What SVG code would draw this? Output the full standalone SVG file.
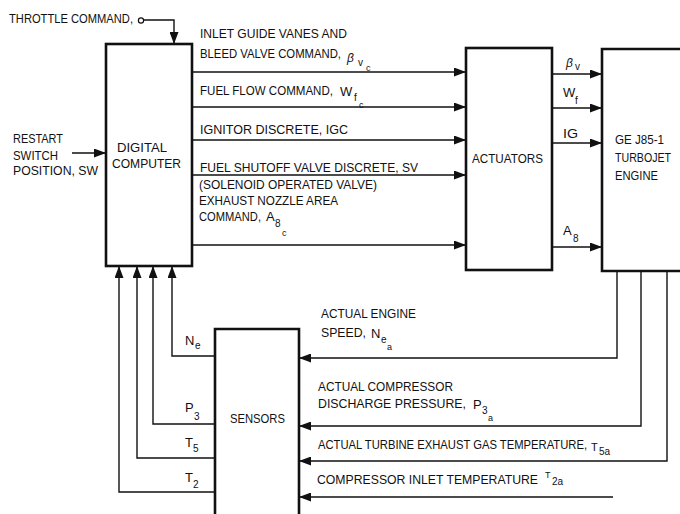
<svg xmlns="http://www.w3.org/2000/svg" width="680" height="514" viewBox="0 0 680 514">
<style>
text{font-family:"Liberation Sans",Arial,sans-serif;font-size:13px;fill:#111}
.s{font-size:10px}
.ss{font-size:9px}
.b{font-style:italic;font-size:12px}
.box{fill:#fff;stroke:#111;stroke-width:2.6}
.ln{fill:none;stroke:#111;stroke-width:1.4}
</style>
<defs>
<marker id="ah" markerUnits="userSpaceOnUse" markerWidth="12" markerHeight="9" refX="12" refY="4.5" orient="auto">
<path d="M0,0 L12,4.5 L0,9 z" fill="#111"/>
</marker>
</defs>
<rect width="680" height="514" fill="#fff"/>

<g id="connectors">
<path class="ln" d="M144,20 H174 V44" marker-end="url(#ah)"/>
<circle cx="141" cy="20.5" r="2.6" fill="#fff" stroke="#111" stroke-width="1.2"/>
<path class="ln" d="M72,153 H106" marker-end="url(#ah)"/>
<path class="ln" d="M192,72 H466" marker-end="url(#ah)"/>
<path class="ln" d="M192,107 H466" marker-end="url(#ah)"/>
<path class="ln" d="M192,140 H466" marker-end="url(#ah)"/>
<path class="ln" d="M192,175 H466" marker-end="url(#ah)"/>
<path class="ln" d="M192,245 H466" marker-end="url(#ah)"/>
<path class="ln" d="M552,74 H602" marker-end="url(#ah)"/>
<path class="ln" d="M552,108 H602" marker-end="url(#ah)"/>
<path class="ln" d="M552,143 H602" marker-end="url(#ah)"/>
<path class="ln" d="M552,247 H602" marker-end="url(#ah)"/>
<path class="ln" d="M617,271 V358 H299" marker-end="url(#ah)"/>
<path class="ln" d="M641,271 V426 H299" marker-end="url(#ah)"/>
<path class="ln" d="M667,271 V461 H299" marker-end="url(#ah)"/>
<path class="ln" d="M613,497 H299" marker-end="url(#ah)"/>
<path class="ln" d="M215,356 H172 V266" marker-end="url(#ah)"/>
<path class="ln" d="M215,424 H153 V266" marker-end="url(#ah)"/>
<path class="ln" d="M215,458 H137 V266" marker-end="url(#ah)"/>
<path class="ln" d="M215,492 H119 V266" marker-end="url(#ah)"/>
</g>

<g id="computer">
<rect class="box" x="106" y="44" width="86" height="222"/>
<text x="117" y="152" textLength="50" lengthAdjust="spacingAndGlyphs">DIGITAL</text>
<text x="112" y="168" textLength="69" lengthAdjust="spacingAndGlyphs">COMPUTER</text>
</g>

<g id="actuators">
<rect class="box" x="466" y="48" width="86" height="222"/>
<text x="472" y="163" textLength="71" lengthAdjust="spacingAndGlyphs">ACTUATORS</text>
</g>

<g id="engine">
<path class="box" d="M681,49 H602 V271 H681"/>
<text x="615" y="144" textLength="49" lengthAdjust="spacingAndGlyphs">GE J85-1</text>
<text x="615" y="162" textLength="56" lengthAdjust="spacingAndGlyphs">TURBOJET</text>
<text x="615" y="180" textLength="43" lengthAdjust="spacingAndGlyphs">ENGINE</text>
</g>

<g id="sensors">
<path class="box" d="M215,515 V329 H299 V515"/>
<text x="230" y="423" textLength="55" lengthAdjust="spacingAndGlyphs">SENSORS</text>
</g>

<g id="labels">
<text x="9" y="23" textLength="124" lengthAdjust="spacingAndGlyphs">THROTTLE COMMAND,</text>
<text x="13" y="143" textLength="50" lengthAdjust="spacingAndGlyphs">RESTART</text>
<text x="13" y="160" textLength="45" lengthAdjust="spacingAndGlyphs">SWITCH</text>
<text x="13" y="175" textLength="85" lengthAdjust="spacingAndGlyphs">POSITION, SW</text>

<text x="200" y="38" textLength="147" lengthAdjust="spacingAndGlyphs">INLET GUIDE VANES AND</text>
<text x="200" y="58"><tspan textLength="141" lengthAdjust="spacingAndGlyphs">BLEED VALVE COMMAND,</tspan><tspan class="b" x="347" y="62">β</tspan><tspan class="s" x="358" y="66">v</tspan><tspan class="ss" x="366" y="71">c</tspan></text>

<text x="200" y="95"><tspan textLength="133" lengthAdjust="spacingAndGlyphs">FUEL FLOW COMMAND,</tspan><tspan x="340" y="96">W</tspan><tspan class="s" x="354" y="101">f</tspan><tspan class="ss" x="359" y="108">c</tspan></text>

<text x="200" y="134" textLength="148" lengthAdjust="spacingAndGlyphs">IGNITOR DISCRETE, IGC</text>
<text x="200" y="172" textLength="218" lengthAdjust="spacingAndGlyphs">FUEL SHUTOFF VALVE DISCRETE, SV</text>
<text x="199" y="189" textLength="178" lengthAdjust="spacingAndGlyphs">(SOLENOID OPERATED VALVE)</text>
<text x="199" y="205" textLength="139" lengthAdjust="spacingAndGlyphs">EXHAUST NOZZLE AREA</text>
<text x="199" y="221"><tspan textLength="62" lengthAdjust="spacingAndGlyphs">COMMAND,</tspan><tspan x="266" y="221">A</tspan><tspan class="s" x="275" y="227">8</tspan><tspan class="ss" x="282" y="236">c</tspan></text>

<text x="566" y="67"><tspan class="b">β</tspan><tspan class="s" x="575" y="70">v</tspan></text>
<text x="563" y="97">W<tspan class="s" x="575" y="104">f</tspan></text>
<text x="563" y="138" textLength="15" lengthAdjust="spacingAndGlyphs">IG</text>
<text x="563" y="235">A<tspan class="s" x="573" y="242">8</tspan></text>

<text x="185" y="345">N<tspan class="s" x="195" y="349">e</tspan></text>
<text x="185" y="412">P<tspan class="s" x="194" y="420">3</tspan></text>
<text x="185" y="447">T<tspan class="s" x="193" y="452">5</tspan></text>
<text x="185" y="482">T<tspan class="s" x="193" y="488">2</tspan></text>

<text x="321" y="318" textLength="95" lengthAdjust="spacingAndGlyphs">ACTUAL ENGINE</text>
<text x="321" y="337"><tspan textLength="45" lengthAdjust="spacingAndGlyphs">SPEED,</tspan><tspan x="371" y="338">N</tspan><tspan class="s" x="381" y="343">e</tspan><tspan class="ss" x="387" y="350">a</tspan></text>

<text x="318" y="391" textLength="135" lengthAdjust="spacingAndGlyphs">ACTUAL COMPRESSOR</text>
<text x="318" y="408"><tspan textLength="148" lengthAdjust="spacingAndGlyphs">DISCHARGE PRESSURE,</tspan><tspan x="473" y="409">P</tspan><tspan class="s" x="482" y="414">3</tspan><tspan class="ss" x="488" y="421">a</tspan></text>

<text x="318" y="449"><tspan textLength="269" lengthAdjust="spacingAndGlyphs">ACTUAL TURBINE EXHAUST GAS TEMPERATURE,</tspan><tspan x="591" y="451" font-size="11px">T</tspan><tspan class="s" x="599" y="455">5a</tspan></text>

<text x="317" y="484"><tspan textLength="221" lengthAdjust="spacingAndGlyphs">COMPRESSOR INLET TEMPERATURE</tspan><tspan x="545" y="478" font-size="9px">T</tspan><tspan class="s" x="552" y="485">2a</tspan></text>
</g>
</svg>
